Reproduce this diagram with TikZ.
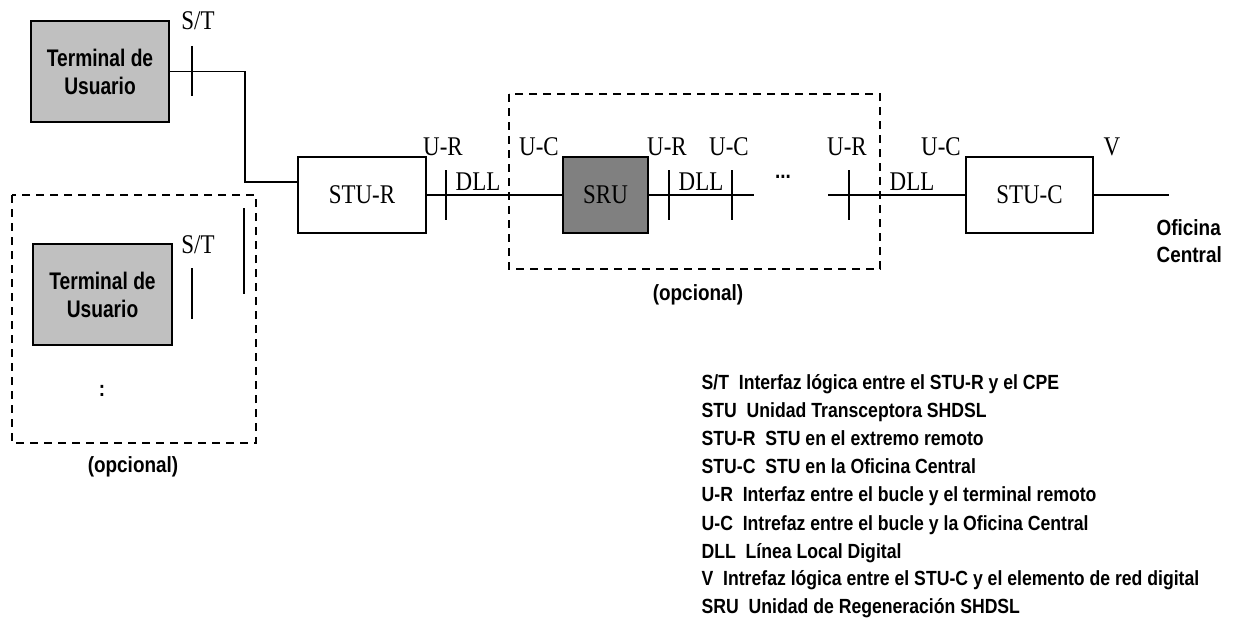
\documentclass[tikz,border=0pt]{standalone}
\usepackage{fontspec}
\newfontfamily\labfont[FakeStretch=0.85]{Liberation Serif}
\newfontfamily\bsfont[FakeStretch=0.86]{Liberation Sans}
\newfontfamily\tbfont[FakeStretch=0.8]{Liberation Sans}
\definecolor{lgray}{HTML}{C0C0C0}
\definecolor{dgray}{HTML}{808080}
\begin{document}
\begin{tikzpicture}[x=1pt,y=-1pt,
  line width=1.3pt,
  box/.style={draw, line width=1.5pt, minimum height=76pt, inner sep=0pt, font=\labfont\fontsize{27}{27}\selectfont},
  termbox/.style={draw, line width=1.5pt, fill=lgray, inner sep=0pt, align=center,
     font=\tbfont\bfseries\fontsize{24}{28}\selectfont},
  lab/.style={anchor=base, inner sep=0pt, font=\labfont\fontsize{27}{27}\selectfont},
  bold/.style={inner sep=0pt, font=\bsfont\bfseries\fontsize{22}{27}\selectfont},
  legend/.style={anchor=base west, inner sep=0pt, font=\bsfont\bfseries\fontsize{20.5}{20.5}\selectfont},
  optbox/.style={draw, line width=1.4pt, dash pattern=on 8pt off 6pt},
  tick/.style={line width=1.3pt}]
\useasboundingbox (0,0) rectangle (1253,618);

% dashed optional boxes
\draw[optbox] (12,195) rectangle (256,443);
\draw[optbox] (509,94) rectangle (880,269);

% boxes
\node[termbox, minimum width=138pt, minimum height=101pt] (term1) at (100,71.5) {Terminal de\\Usuario};
\node[termbox, minimum width=139pt, minimum height=101pt] (term2) at (102.5,294.5) {Terminal de\\Usuario};
\node[box, minimum width=128pt] (stur) at (362,195) {STU-R};
\node[box, minimum width=85pt, fill=dgray] (sru) at (605.5,195) {SRU};
\node[box, minimum width=127pt] (stuc) at (1029.5,195) {STU-C};

% connectors
\coordinate (c1) at (245,182);
\draw (term1.east) -| (c1) -- (c1 -| stur.west);
\draw (stur.east) -- (sru.west);
\coordinate (e1) at (754,195);
\coordinate (s2) at (828,195);
\coordinate (vend) at (1169,195);
\draw (sru.east) -- (e1);
\draw (s2) -- (stuc.west);
\draw (stuc.east) -- (vend);

% interface ticks
\draw[tick] (192,46) -- (192,96);
\draw[tick] (192,268) -- (192,319);
\draw[tick] (244,208) -- (244,294);
\draw[tick] (446,170) -- (446,220);
\draw[tick] (669,170) -- (669,220);
\draw[tick] (732,170) -- (732,220);
\draw[tick] (849,170) -- (849,220);

% interface labels
\node[lab] (st1) at (198,30) {S/T};
\node[lab] (st2) at (198,253) {S/T};
\node[lab] (ur1) at (443,155) {U-R};
\node[lab] (uc1) at (539,155) {U-C};
\node[lab] (ur2) at (667,155) {U-R};
\node[lab] (uc2) at (729,155) {U-C};
\node[lab] (ur3) at (847,155) {U-R};
\node[lab] (uc3) at (941,155) {U-C};
\node[lab] (vl) at (1112,155) {V};
\node[lab] (dll1) at (478,190) {DLL};
\node[lab] (dll2) at (701,190) {DLL};
\node[lab] (dll3) at (912,190) {DLL};
\node[bold] (dots) at (783,177) {...};
\node[bold] (vdots) at (102,391) {:};

% other text
\node[bold] (opt1) at (133,467) {(opcional)};
\node[bold] (opt2) at (698,295) {(opcional)};
\node[bold, anchor=west, align=left] (oc) at (1156,241) {Oficina\\Central};

% legend
\node[legend] (l1) at (701,389) {S/T\ \ Interfaz lógica entre el STU-R y el CPE};
\node[legend] (l2) at (701,417) {STU\ \ Unidad Transceptora SHDSL};
\node[legend] (l3) at (701,445) {STU-R\ \ STU en el extremo remoto};
\node[legend] (l4) at (701,473) {STU-C\ \ STU en la Oficina Central};
\node[legend] (l5) at (701,501) {U-R\ \ Interfaz entre el bucle y el terminal remoto};
\node[legend] (l6) at (701,530) {U-C\ \ Intrefaz entre el bucle y la Oficina Central};
\node[legend] (l7) at (701,558) {DLL\ \ Línea Local Digital};
\node[legend] (l8) at (701,585) {V\ \ Intrefaz lógica entre el STU-C y el elemento de red digital};
\node[legend] (l9) at (701,613) {SRU\ \ Unidad de Regeneración SHDSL};
\end{tikzpicture}
\end{document}
